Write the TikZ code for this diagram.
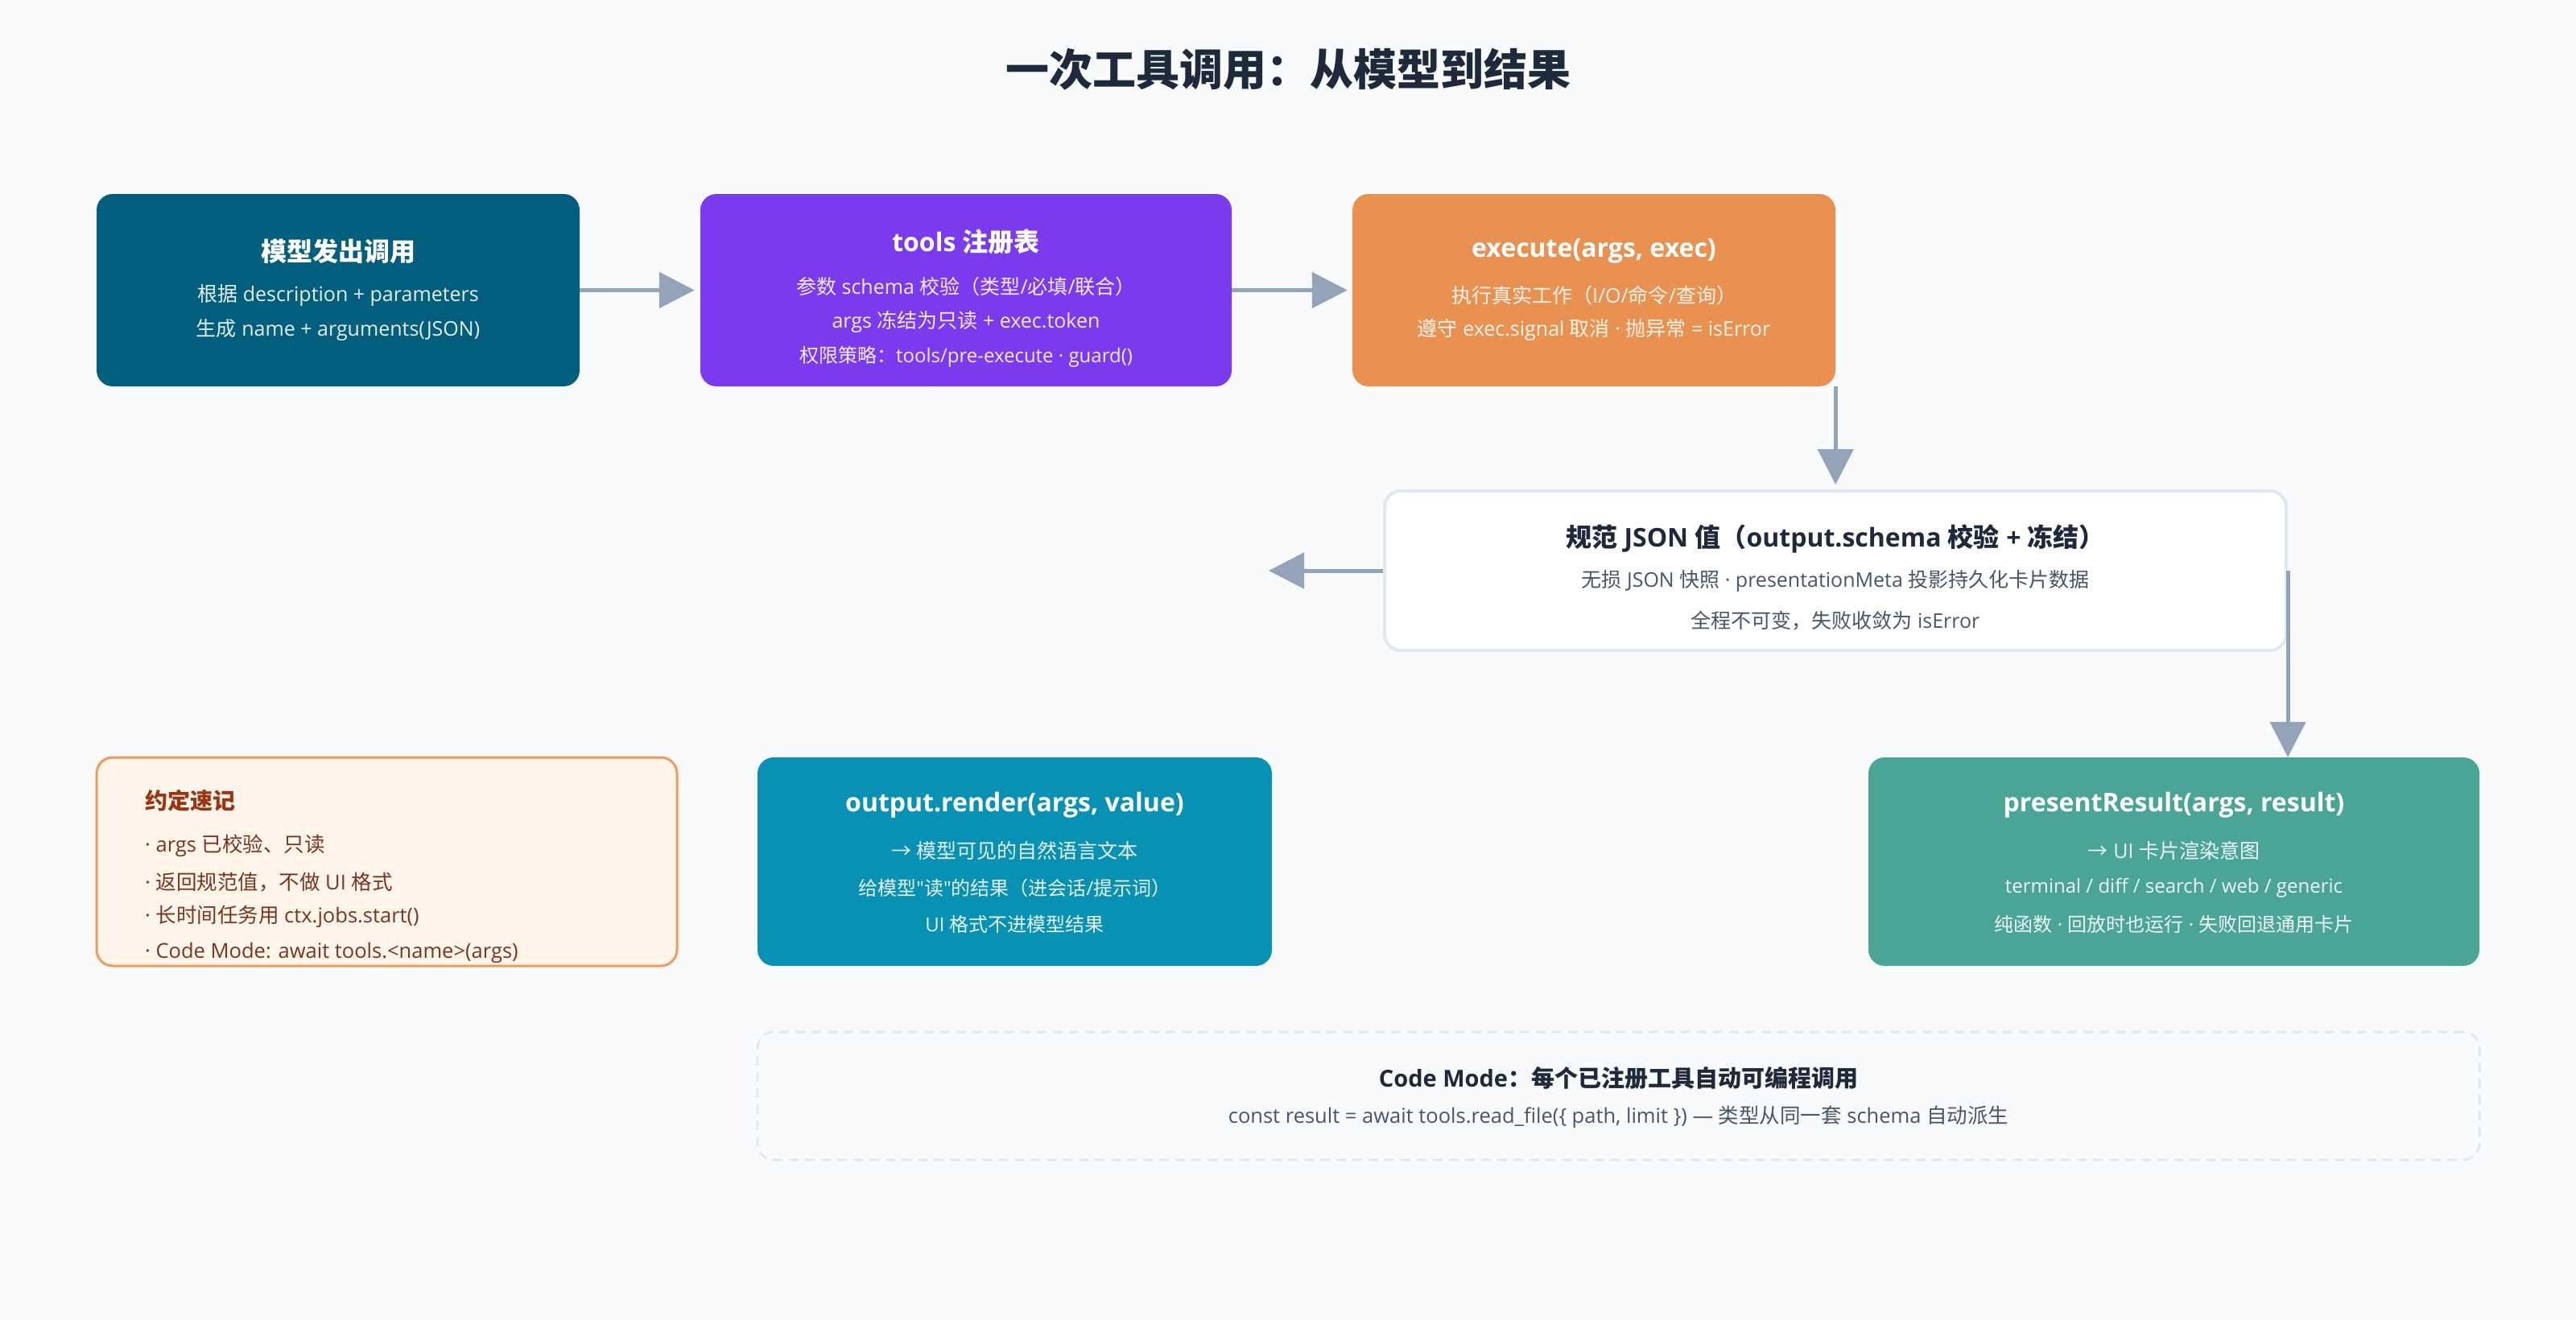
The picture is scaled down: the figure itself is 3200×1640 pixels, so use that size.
\documentclass[tikz,border=0pt]{standalone}
\usepackage{fontspec}
\setmainfont{Open Sans}
\newfontfamily\latfam{Open Sans}
\newfontfamily\cjkfam{Noto Sans CJK SC}
\newXeTeXintercharclass\cjkcls
\newcount\cjkc
\newcommand\cjkrange[2]{\cjkc=#1\relax
  \loop\XeTeXcharclass\cjkc=\cjkcls\relax\advance\cjkc by 1\relax\ifnum\cjkc<#2\repeat}
\cjkrange{"4E00}{"A000}
\cjkrange{"3000}{"3040}
\cjkrange{"FF00}{"FFF0}
\cjkrange{"2190}{"2200}
\XeTeXinterchartokenstate=1
\XeTeXinterchartoks 0 \cjkcls = {\cjkfam}
\XeTeXinterchartoks 4095 \cjkcls = {\cjkfam}
\XeTeXinterchartoks \cjkcls 0 = {\latfam}
\XeTeXinterchartoks \cjkcls 4095 = {\latfam}
\usetikzlibrary{arrows.meta}
\definecolor{bg}{HTML}{F8FAFC}
\definecolor{ink}{HTML}{1E293B}
\definecolor{inksub}{HTML}{475569}
\definecolor{arrowc}{HTML}{94A3B8}
\definecolor{cmodel}{HTML}{025E7D}
\definecolor{ctools}{HTML}{7C3AED}
\definecolor{cexec}{HTML}{E99150}
\definecolor{crender}{HTML}{0891B2}
\definecolor{cpresent}{HTML}{4BA596}
\definecolor{lineg}{HTML}{E2E8F0}
\definecolor{legfill}{HTML}{FFF5EB}
\definecolor{legline}{HTML}{EE9B5E}
\definecolor{legtitle}{HTML}{9A3412}
\definecolor{legtext}{HTML}{7B341E}
\tikzset{
  card/.style={rounded corners=20pt, inner sep=0pt, draw=none},
  ttl/.style={font=\fontsize{32}{38}\selectfont\bfseries, text=white, inner sep=0pt},
  sub/.style={font=\fontsize{25}{30}\selectfont, text=white!90!#1, inner sep=0pt},
  dttl/.style={font=\fontsize{32}{38}\selectfont\bfseries, text=ink, inner sep=0pt},
  dsub/.style={font=\fontsize{25}{30}\selectfont, text=inksub, inner sep=0pt},
  legitem/.style={anchor=west, inner sep=0pt, text=legtext, font=\fontsize{25.5}{30}\selectfont},
  conn/.style={draw=arrowc, line width=5pt, -{Triangle[length=44pt,width=44pt]}},
}
\begin{document}
\begin{tikzpicture}[x=1pt,y=-1pt]
\fill[bg] (0,0) rectangle (3200,1640);
\useasboundingbox (0,0) rectangle (3200,1640);

\node[inner sep=0pt, text=ink, font=\fontsize{54}{60}\selectfont\bfseries] (title) at (1600,86) {一次工具调用：从模型到结果};

% boxes
\node[card, fill=cmodel, minimum width=600pt, minimum height=239pt] (b1) at (420,360.5) {};
\node[card, fill=ctools, minimum width=660pt, minimum height=239pt] (b2) at (1200,360.5) {};
\node[card, fill=cexec, minimum width=600pt, minimum height=239pt] (b3) at (1980,360.5) {};
\node[card, fill=white, draw=lineg, line width=4pt, minimum width=1120pt, minimum height=198pt] (b4) at (2280,709) {};
\node[card, fill=legfill, draw=legline, line width=3pt, minimum width=721pt, minimum height=259pt] (leg) at (480.5,1070.5) {};
\node[card, fill=crender, minimum width=639pt, minimum height=259pt] (b6) at (1260.5,1070.5) {};
\node[card, fill=cpresent, minimum width=759pt, minimum height=259pt] (b7) at (2700.5,1070.5) {};
\node[card, fill=bg, draw=lineg, line width=3pt, dash pattern=on 12pt off 8pt, minimum width=2139pt, minimum height=159pt] (b8) at (2010.5,1361.5) {};

% box 1
\node[ttl] (b1t) at (420,312) {模型发出调用};
\node[sub=cmodel] (b1a) at (420,367) {根据 description + parameters};
\node[sub=cmodel] (b1b) at (420,410) {生成 name + arguments(JSON)};

% box 2
\node[ttl] (b2t) at (1200,300) {tools 注册表};
\node[sub=ctools] (b2a) at (1200,356) {参数 schema 校验（类型/必填/联合）};
\node[sub=ctools] (b2b) at (1200,400) {args 冻结为只读 + exec.token};
\node[sub=ctools, font=\fontsize{24}{29}\selectfont] (b2c) at (1200,443) {权限策略：tools/pre-execute · guard()};

% box 3
\node[ttl] (b3t) at (1980,312) {execute(args, exec)};
\node[sub=cexec] (b3a) at (1980,367) {执行真实工作（I/O/命令/查询）};
\node[sub=cexec] (b3b) at (1980,410) {遵守 exec.signal 取消 · 抛异常 = isError};

% box 4
\node[dttl] (b4t) at (2280,669) {规范 JSON 值（output.schema 校验 + 冻结）};
\node[dsub] (b4a) at (2280,722) {无损 JSON 快照 · presentationMeta 投影持久化卡片数据};
\node[dsub] (b4b) at (2280,771) {全程不可变，失败收敛为 isError};

% legend
\node[anchor=west, inner sep=0pt, text=legtitle, font=\fontsize{28}{34}\selectfont\bfseries] (lt) at (180,995) {约定速记};
\node[legitem] (l1) at (180,1051) {· args 已校验、只读};
\node[legitem] (l2) at (180,1096) {· 返回规范值，不做 UI 格式};
\node[legitem] (l3) at (180,1139) {· 长时间任务用 ctx.jobs.start()};
\node[legitem] (l4) at (180,1184) {· Code Mode: await tools.<name>(args)};

% box 6
\node[ttl] (b6t) at (1260.5,1000) {output.render(args, value)};
\node[sub=crender] (b6a) at (1260.5,1057) {→ 模型可见的自然语言文本};
\node[sub=crender, font=\fontsize{24}{29}\selectfont] (b6b) at (1260.5,1103) {给模型"读"的结果（进会话/提示词）};
\node[sub=crender, font=\fontsize{24}{29}\selectfont] (b6c) at (1260.5,1148) {UI 格式不进模型结果};

% box 7
\node[ttl] (b7t) at (2700.5,1000) {presentResult(args, result)};
\node[sub=cpresent] (b7a) at (2700.5,1057) {→ UI 卡片渲染意图};
\node[sub=cpresent, font=\fontsize{24}{29}\selectfont] (b7b) at (2700.5,1103) {terminal / diff / search / web / generic};
\node[sub=cpresent, font=\fontsize{24}{29}\selectfont] (b7c) at (2700.5,1148) {纯函数 · 回放时也运行 · 失败回退通用卡片};

% box 8
\node[dttl, font=\fontsize{29}{35}\selectfont\bfseries] (b8t) at (2010.5,1339) {Code Mode：每个已注册工具自动可编程调用};
\node[dsub, font=\fontsize{25.5}{30}\selectfont] (b8a) at (2010.5,1388) {const result = await tools.read\_file(\{ path, limit \}) — 类型从同一套 schema 自动派生};

% connectors
\coordinate (out) at (1576,709);
\draw[conn, shorten >=7pt] (b1.east) -- (b2.west);
\draw[conn, shorten >=6pt] (b2.east) -- (b3.west);
\draw[conn, shorten >=6pt] (b3.south east) -- (b3.south east |- b4.north);
\draw[conn] (b4.west) -- (out);
\draw[conn] (b4.east) -- (b4.east |- b7.north);
\end{tikzpicture}
\end{document}
